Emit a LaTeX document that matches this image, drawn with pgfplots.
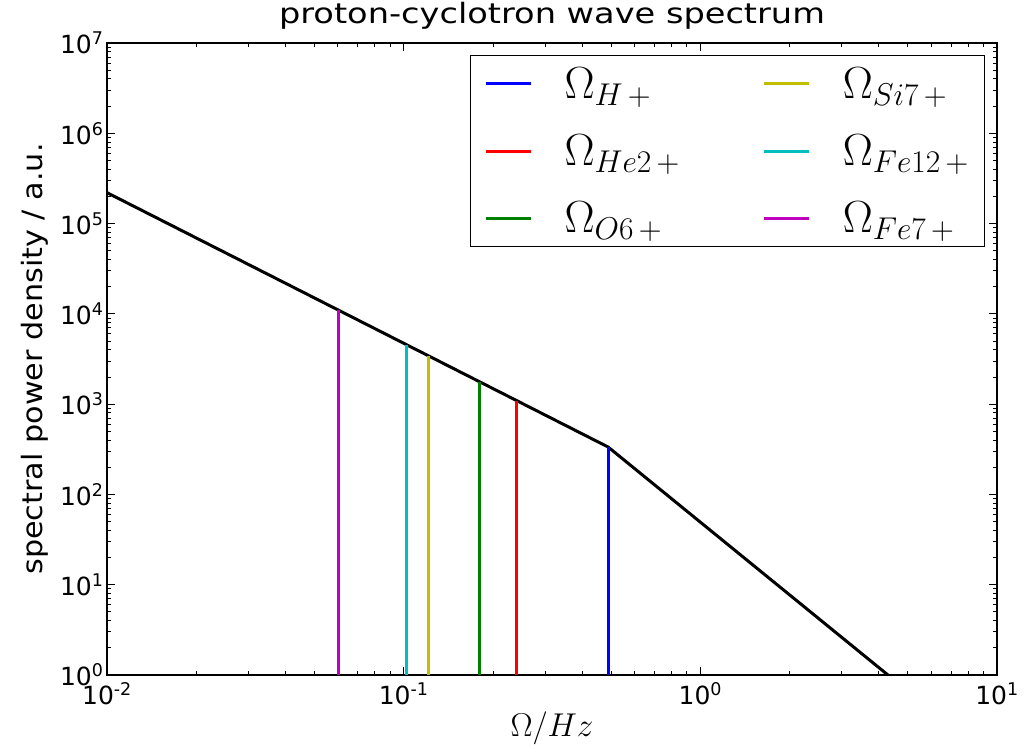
\RequirePackage{fix-cm}
\documentclass[border=0pt]{standalone}
\usepackage{pgfplots}
\pgfplotsset{compat=1.18}
\usepackage{fontspec}
\setmainfont{DejaVu Sans}
\newfontfamily\widesans[FakeStretch=1.2]{DejaVu Sans}
\newfontfamily\labelsans[FakeStretch=1.08]{DejaVu Sans}

\definecolor{mb}{rgb}{0,0,1}
\definecolor{mr}{rgb}{1,0,0}
\definecolor{mg}{rgb}{0,0.5,0}
\definecolor{my}{rgb}{0.75,0.75,0}
\definecolor{mc}{rgb}{0,0.75,0.75}
\definecolor{mm}{rgb}{0.75,0,0.75}

\begin{document}
\begin{tikzpicture}[x=1pt,y=1pt]
\useasboundingbox (0,0) rectangle (1028,748);
\begin{axis}[
  at={(107pt,73pt)}, anchor=south west,
  scale only axis, width=890pt, height=632pt,
  xmode=log, ymode=log,
  xmin=1e-2, xmax=10, ymin=1, ymax=1e7,
  xtick={0.01,0.1,1,10},
  xticklabels={10\textsuperscript{-2},10\textsuperscript{-1},10\textsuperscript{0},10\textsuperscript{1}},
  ytick={1,10,100,1000,10000,100000,1000000,10000000},
  yticklabels={10\textsuperscript{0},10\textsuperscript{1},10\textsuperscript{2},10\textsuperscript{3},10\textsuperscript{4},10\textsuperscript{5},10\textsuperscript{6},10\textsuperscript{7}},
  tick label style={font=\fontsize{25}{28}\selectfont},
  xticklabel style={yshift=-4pt},
  tick align=inside,
  major tick length=8pt, minor tick length=4pt,
  every tick/.style={black, line width=0.9pt},
  axis line style={line width=1.3pt},
  title={proton-cyclotron wave spectrum},
  title style={font=\widesans\fontsize{28}{32}\selectfont, anchor=base, at={(0.5,1)}, yshift=13pt},
  xlabel={$\Omega/Hz$},
  xlabel style={font=\fontsize{33}{36}\selectfont, at={(axis description cs:0.5,-0.085)}, anchor=center},
  ylabel={spectral power density / a.u.},
  ylabel style={font=\labelsans\fontsize{28}{32}\selectfont, at={(axis description cs:-0.0809,0.5)}, anchor=center},
  legend columns=2,
  legend cell align=left,
  legend image code/.code={\draw[#1] (0pt,0pt) -- (45pt,0pt);},
  legend style={at={(0.987,0.981)}, anchor=north east, draw=black, line width=1.3pt,
    font=\fontsize{45}{50}\selectfont, inner xsep=14pt, inner ysep=10pt,
    row sep=31pt,
    /tikz/every odd column/.append style={column sep=30pt},
    /tikz/every even column/.append style={column sep=81pt}},
]
% broken power-law spectrum
\addplot[black, line width=3pt, forget plot] coordinates {(0.01,2.2e5) (0.489,335) (4.29,1)};
% ion cyclotron frequencies
\addplot[mb, line width=3pt] coordinates {(0.489,1) (0.489,335)};
\addlegendentry{$\Omega_{H\,+}$}
\addplot[my, line width=3pt] coordinates {(0.1208,1) (0.1208,3440)};
\addlegendentry{$\Omega_{Si7\,+}$}
\addplot[mr, line width=3pt] coordinates {(0.241,1) (0.241,1090)};
\addlegendentry{$\Omega_{He2\,+}$}
\addplot[mc, line width=3pt] coordinates {(0.1026,1) (0.1026,4530)};
\addlegendentry{$\Omega_{Fe12\,+}$}
\addplot[mg, line width=3pt] coordinates {(0.1808,1) (0.1808,1760)};
\addlegendentry{$\Omega_{O6\,+}$}
\addplot[mm, line width=3pt] coordinates {(0.0605,1) (0.0605,1.09e4)};
\addlegendentry{$\Omega_{Fe7\,+}$}
\end{axis}
\end{tikzpicture}
\end{document}
